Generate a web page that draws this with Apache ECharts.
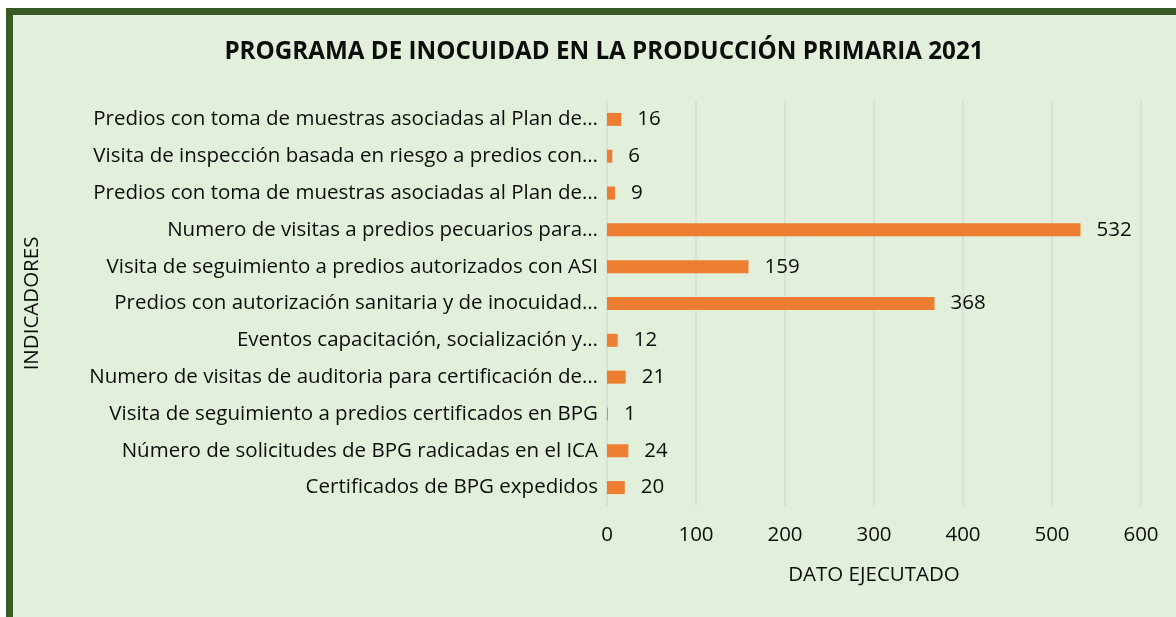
<!DOCTYPE html>
<html>
<head>
<meta charset="utf-8">
<script src="https://cdn.jsdelivr.net/npm/echarts@6/dist/echarts.min.js"></script>
<style>
html,body{margin:0;padding:0;width:1176px;height:617px;overflow:hidden;background:#ffffff;}
#frame{position:absolute;left:6px;top:8px;width:1200px;height:640px;background:#e2efda;border:7px solid #3a5a24;box-sizing:border-box;}
#chart{position:absolute;left:0;top:0;width:1176px;height:617px;}
</style>
</head>
<body>
<div id="frame"></div>
<div id="chart"></div>
<script>
const categories = [
  "Certificados de BPG expedidos",
  "Número de solicitudes de BPG radicadas en el ICA",
  "Visita de seguimiento a predios certificados en BPG",
  "Numero de visitas de auditoria para certificación de…",
  "Eventos capacitación, socialización y…",
  "Predios con autorización sanitaria y de inocuidad…",
  "Visita de seguimiento a predios autorizados con ASI",
  "Numero de visitas a predios pecuarios para…",
  "Predios con toma de muestras asociadas al Plan de…",
  "Visita de inspección basada en riesgo a predios con…",
  "Predios con toma de muestras asociadas al Plan de…"
];
const values = [20, 24, 1, 21, 12, 368, 159, 532, 9, 6, 16];
const xTicks = { min: 0, max: 600, interval: 100 };
const titleText = "PROGRAMA DE INOCUIDAD EN LA PRODUCCIÓN PRIMARIA 2021";
const xName = "DATO EJECUTADO";
const yName = "INDICADORES";

const FONT = "'Open Sans', 'Noto Sans', sans-serif";
const FS = 20.5;
const chart = echarts.init(document.getElementById('chart'), null, {renderer: 'canvas'});
chart.setOption({
  backgroundColor: 'transparent',
  animation: false,
  textStyle: { fontFamily: FONT, color: '#0d0d0d' },
  title: {
    text: titleText,
    left: 599,
    textAlign: 'center',
    top: 35,
    textStyle: { fontFamily: FONT, fontSize: 24.2, fontWeight: 'bold', color: '#0d0d0d' }
  },
  grid: { left: 607, right: 35, top: 101, bottom: 111, containLabel: false },
  xAxis: {
    type: 'value',
    min: xTicks.min, max: xTicks.max, interval: xTicks.interval,
    name: xName,
    nameLocation: 'middle',
    nameGap: 59,
    nameTextStyle: { fontFamily: FONT, fontSize: FS, color: '#0d0d0d' },
    axisLine: { show: false },
    axisTick: { show: false },
    axisLabel: { fontFamily: FONT, fontSize: FS, color: '#0d0d0d', margin: 19 },
    splitLine: { show: true, lineStyle: { color: '#d9d9d9', width: 1.5 } }
  },
  yAxis: {
    type: 'category',
    data: categories,
    name: yName,
    nameLocation: 'middle',
    nameGap: 564,
    nameRotate: 90,
    nameTextStyle: { fontFamily: FONT, fontSize: FS, color: '#0d0d0d' },
    axisLine: { show: false },
    axisTick: { show: false },
    axisLabel: { fontFamily: FONT, fontSize: FS, color: '#0d0d0d', margin: 9 }
  },
  series: [{
    type: 'bar',
    data: values,
    barWidth: 13,
    itemStyle: { color: '#ed7d31' },
    label: {
      show: true,
      position: 'right',
      distance: 16,
      fontFamily: FONT,
      fontSize: FS,
      color: '#0d0d0d'
    }
  }]
});
</script>
</body>
</html>
